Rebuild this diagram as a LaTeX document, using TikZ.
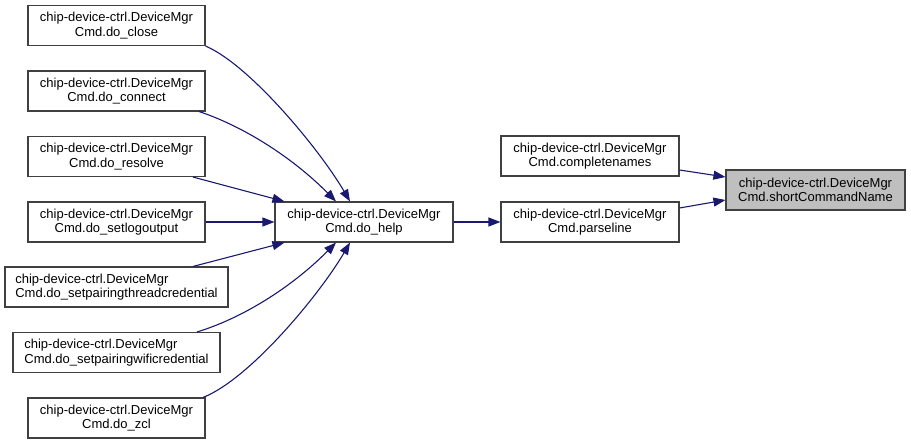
\documentclass[tikz,border=0pt]{standalone}
\usepackage{fontspec}
\setmainfont{Liberation Sans}
\usetikzlibrary{arrows.meta,calc}
\definecolor{edgecol}{HTML}{191970}
\definecolor{boxcol}{HTML}{404040}
\definecolor{curfill}{HTML}{BFBFBF}
\begin{document}
\begin{tikzpicture}[x=1pt,y=-1pt,
  fn/.style={draw=boxcol, line width=1.1pt, fill=white, minimum height=40pt,
    minimum width=177pt, inner sep=0pt, align=center,
    font=\fontsize{13}{14.5}\selectfont},
  edge/.style={draw=edgecol, line width=1.1pt, -{Triangle[length=12pt,width=9pt]}}]
\useasboundingbox (0,0) rectangle (911,444);

\node[fn] (close)   at (116.5,25.5) {chip-device-ctrl.DeviceMgr\\Cmd.do\_close};
\node[fn] (connect) at (116.5,91)   {chip-device-ctrl.DeviceMgr\\Cmd.do\_connect};
\node[fn] (resolve) at (116.5,156.5) {chip-device-ctrl.DeviceMgr\\Cmd.do\_resolve};
\node[fn] (setlog)  at (116.5,222)  {chip-device-ctrl.DeviceMgr\\Cmd.do\_setlogoutput};
\node[fn, minimum width=223pt, align=left] (thread) at (116.5,287)
  {chip-device-ctrl.DeviceMgr\\Cmd.do\_setpairingthreadcredential};
\node[fn, minimum width=207pt, align=left] (wifi) at (116.5,352.5)
  {chip-device-ctrl.DeviceMgr\\Cmd.do\_setpairingwificredential};
\node[fn] (zcl)     at (116.5,418)  {chip-device-ctrl.DeviceMgr\\Cmd.do\_zcl};
\node[fn, minimum width=178pt] (help) at (364,222) {chip-device-ctrl.DeviceMgr\\Cmd.do\_help};
\node[fn, minimum width=178pt] (complete) at (590,156) {chip-device-ctrl.DeviceMgr\\Cmd.completenames};
\node[fn, minimum width=178pt] (parse) at (590,222) {chip-device-ctrl.DeviceMgr\\Cmd.parseline};
\node[fn, minimum width=179pt, fill=curfill] (short) at (815.5,190) {chip-device-ctrl.DeviceMgr\\Cmd.shortCommandName};

\draw[edge] (close.south east) .. controls (250,65) and (320,150) .. ($(help.north)+(-14,0)$);
\draw[edge] ($(connect.south)+(82.5,0)$) .. controls (240,125) and (290,155) .. ($(help.north)+(-28,0)$);
\draw[edge] ($(resolve.south)+(76.5,0)$) -- ($(help.north west)+(10,0)$);
\draw[edge] (setlog.east) -- (help.west);
\draw[edge] ($(thread.north)+(76.5,0)$) -- ($(help.south west)+(10,0)$);
\draw[edge] ($(wifi.north)+(80.5,0)$) .. controls (240,319) and (290,289) .. ($(help.south)+(-28,0)$);
\draw[edge] ($(zcl.north)+(86.5,0)$) .. controls (250,379) and (320,294) .. ($(help.south)+(-14,0)$);
\draw[edge] (help.east) -- (parse.west);
\draw[edge] ($(complete.east)+(0,14)$) -- ($(short.west)+(0,-13)$);
\draw[edge] ($(parse.east)+(0,-14)$) -- ($(short.west)+(0,10)$);
\end{tikzpicture}
\end{document}
